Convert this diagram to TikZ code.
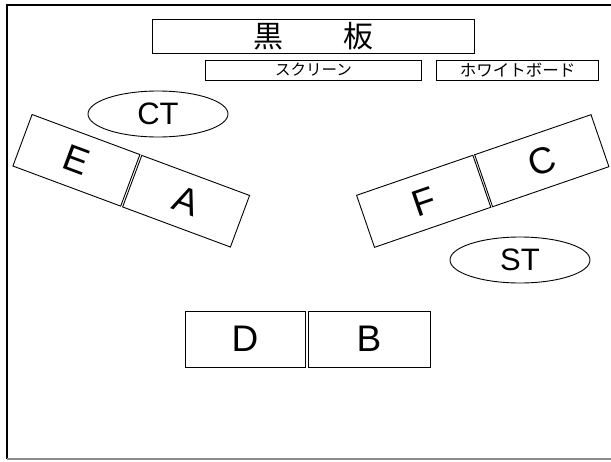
\documentclass[tikz,border=0pt]{standalone}
\usepackage{fontspec}
\setmainfont{Liberation Sans}
\newfontfamily\jpfont{Noto Sans CJK JP}
\usetikzlibrary{shapes.geometric}
\tikzset{
  seat/.style={draw=black, line width=0.9pt, minimum height=55pt, inner sep=0pt, font=\fontsize{37}{37}\selectfont},
  board/.style={draw=black, line width=0.9pt, inner sep=0pt},
  staff/.style={draw=black, line width=0.9pt, ellipse, inner sep=0pt, minimum width=140pt, minimum height=46pt, font=\fontsize{31}{31}\selectfont},
}
\begin{document}
\begin{tikzpicture}[x=1pt,y=-1pt]
\useasboundingbox (0,0) rectangle (611,461);
% frame
\draw[line width=2pt, black] (613,5) -- (7,5) -- (7,459);
\draw[line width=1.2pt, black!45] (7,459) -- (613,459);
% boards
\node[board, minimum width=322pt, minimum height=34pt, font=\jpfont\fontsize{30}{30}\selectfont] (kokuban) at (313.5,36) {黒\hspace{60pt}板};
\node[board, minimum width=216pt, minimum height=20pt, font=\jpfont\fontsize{15.5}{15.5}\selectfont] (screen) at (313.5,70) {スクリーン};
\node[board, minimum width=162pt, minimum height=20pt, font=\jpfont\fontsize{16.5}{16.5}\selectfont] (wb) at (517.5,70) {ホワイトボード};
% staff
\node[staff] (CT) at (158,114) {CT};
\node[staff] (ST) at (520,260) {ST};
% left pair
\node[seat, minimum width=115pt, rotate=-20.4] (E) at (76.4,160.3) {E};
\node[seat, minimum width=115pt, rotate=-20.4] (A) at (186.1,201.2) {A};
% right pair
\node[seat, minimum width=123pt, rotate=19] (F) at (423.7,201.3) {F};
\node[seat, minimum width=123pt, rotate=19] (C) at (541.8,160.7) {C};
% bottom pair
\node[seat, minimum width=120pt, minimum height=56pt] (D) at (245,339) {D};
\node[seat, minimum width=122pt, minimum height=56pt] (B) at (369,339) {B};
\end{tikzpicture}
\end{document}
